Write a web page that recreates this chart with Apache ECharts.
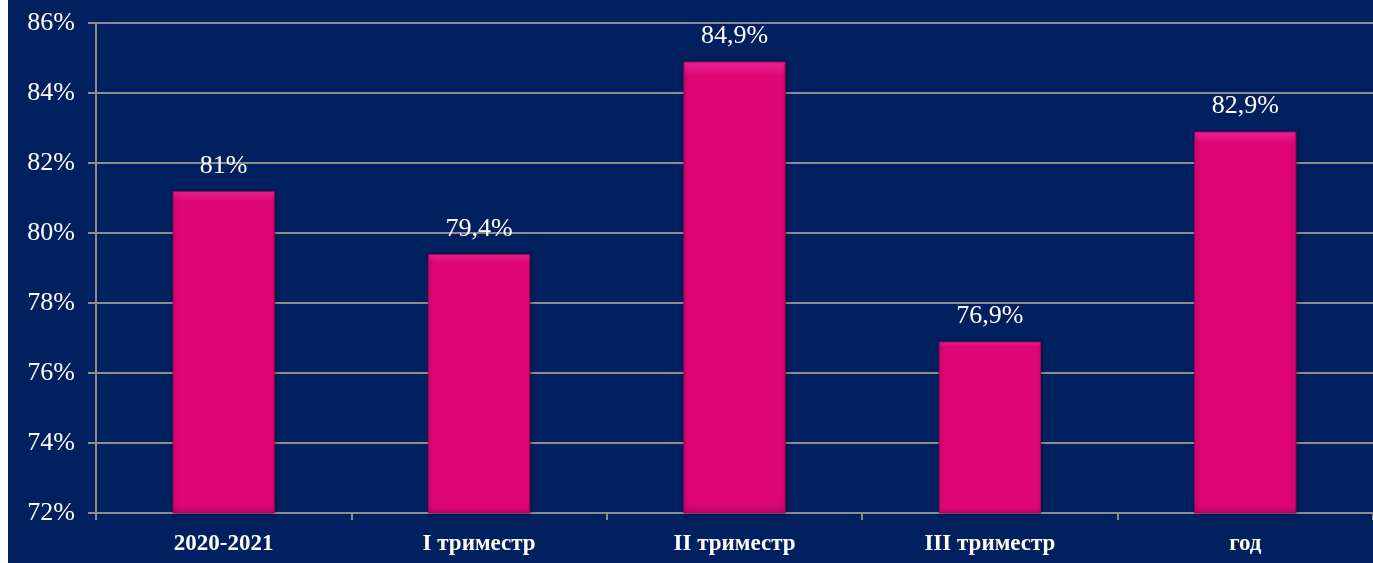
<!DOCTYPE html>
<html><head><meta charset="utf-8">
<script src="https://cdn.jsdelivr.net/npm/echarts@6/dist/echarts.min.js"></script>
<style>
html,body{margin:0;padding:0;background:#fff;}
#c{position:absolute;left:8px;top:0;width:1365px;height:563px;background:#01205f;}
</style></head><body>
<div id="c"></div>
<script>
const categories = ['2020-2021', 'I триместр', 'II триместр', 'III триместр', 'год'];
const values = [81.2, 79.4, 84.9, 76.9, 82.9];
const valueLabels = ['81%', '79,4%', '84,9%', '76,9%', '82,9%'];
const yMin = 72, yMax = 86, yStep = 2;

const chart = echarts.init(document.getElementById('c'));
chart.setOption({
  backgroundColor: '#01205f',
  animation: false,
  grid: {left: 88, right: -3, top: 23, bottom: 50},
  xAxis: {
    type: 'category', data: categories,
    axisLine: {lineStyle: {color: '#8c8c8c', width: 2}},
    axisTick: {show: true, length: 7, lineStyle: {color: '#8c8c8c', width: 2}},
    axisLabel: {color: '#ffffff', fontFamily: 'Liberation Serif', fontWeight: 'bold', fontSize: 23, margin: 20}
  },
  yAxis: {
    type: 'value', min: yMin, max: yMax, interval: yStep,
    axisLine: {show: true, lineStyle: {color: '#8c8c8c', width: 2}},
    axisTick: {show: true, length: 8, lineStyle: {color: '#8c8c8c', width: 2}},
    splitLine: {lineStyle: {color: '#8c8c8c', width: 2}},
    axisLabel: {color: '#ffffff', fontFamily: 'Liberation Serif', fontSize: 26, margin: 21, formatter: v => v + '%'}
  },
  series: [{
    type: 'bar', data: values, barWidth: '40%',
    itemStyle: {
      color: {type: 'linear', x: 0, y: 0, x2: 0, y2: 1, colorStops: [
        {offset: 0, color: '#f0259a'}, {offset: 0.03, color: '#de0677'}, {offset: 0.97, color: '#de0677'}, {offset: 1, color: '#c8056a'}]},
      borderColor: '#a8005a', borderWidth: 1,
      shadowColor: 'rgba(0,0,0,0.35)', shadowBlur: 4, shadowOffsetX: 1
    },
    label: {
      show: true, position: 'top', distance: 12,
      color: '#ffffff', fontFamily: 'Liberation Serif', fontSize: 26,
      formatter: p => valueLabels[p.dataIndex]
    }
  }]
});
</script>
</body></html>
